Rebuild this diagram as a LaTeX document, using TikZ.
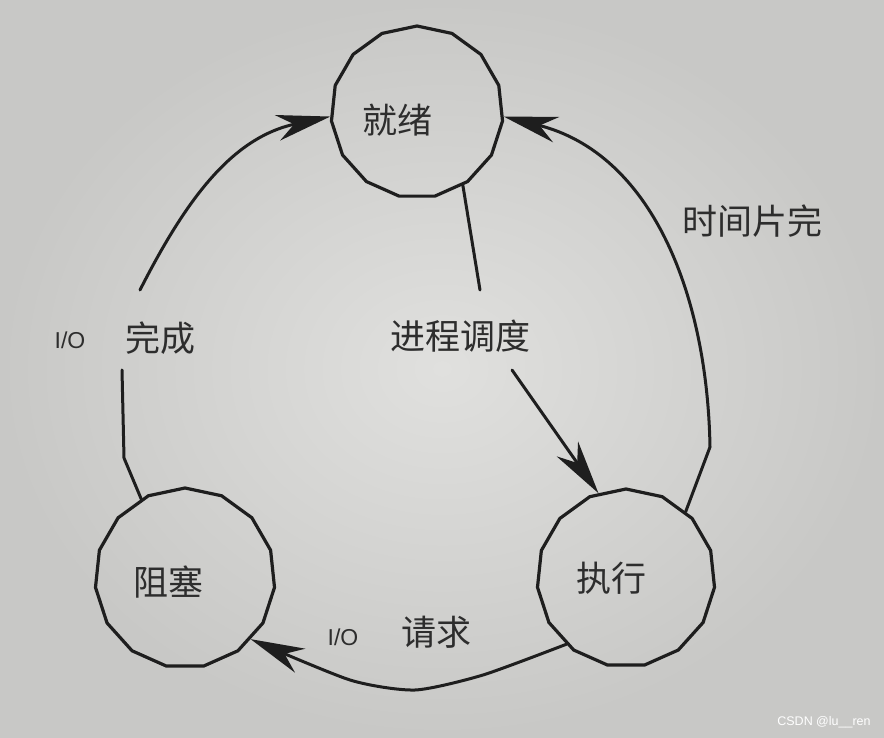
\documentclass[tikz,border=0pt]{standalone}
\usepackage{fontspec}
\setmainfont{Liberation Sans}
\newfontfamily\cjk{Noto Sans CJK SC}
\usetikzlibrary{shapes.geometric,arrows.meta}
\definecolor{bgin}{RGB}{224,224,222}
\definecolor{bgout}{RGB}{200,200,198}
\definecolor{ink}{RGB}{30,30,30}
\definecolor{txt}{RGB}{45,45,45}
\begin{document}
\begin{tikzpicture}[x=1pt,y=1pt,
  state/.style={regular polygon, regular polygon sides=15, draw=ink, line width=3.2pt, inner sep=0pt},
  cn/.style={font=\cjk\fontsize{35}{40}\selectfont, text=txt, inner sep=0pt},
  io/.style={font=\fontsize{23}{26}\selectfont, text=txt, inner sep=0pt},
  arc/.style={draw=ink, line width=3pt, line join=round, line cap=round},
  tip/.style={-{Stealth[length=54pt,width=26pt,inset=17pt]}}
]
\shade[inner color=bgin, outer color=bgout] (0,0) rectangle (884,737);
\useasboundingbox (0,0) rectangle (884,737);

% states
\node[state, minimum size=172pt] (jx) at (417,625) {};
\node[state, minimum size=178pt] (zx) at (626,159) {};
\node[state, minimum size=180pt] (zs) at (185,159) {};

% free ends at the label gaps
\coordinate (l1) at (124,279);
\coordinate (l2) at (122,367);
\coordinate (l3) at (140,447);
\coordinate (m1) at (480,447);
\coordinate (m2) at (512,367);
\coordinate (r1) at (710,290);

% I/O complete: blocked -> ready
\draw[arc] (zs.119) -- (l1) -- (l2);
\draw[arc,tip] (l3) to[out=63,in=192] (jx.183);

% time slice over: running -> ready
\draw[arc,tip] (zx.48) -- (r1) to[out=91,in=-14] (jx.357);

% scheduling: ready -> running
\draw[arc] (jx.-58) -- (m1);
\draw[arc,tip] (m2) -- (zx.108);

% I/O request: running -> blocked
\draw[arc,tip] plot[smooth,tension=0.4] coordinates {(zx.228) (483,62) (415,47) (350,57) (zs.317)};

% labels
\node[cn] (t-jx) at (397,617) {就绪};
\node[cn] (t-sj) at (752,516) {时间片完};
\node[io] (t-io1) at (70,397) {I/O};
\node[cn] (t-wc) at (160,399) {完成};
\node[cn] (t-jc) at (460,401) {进程调度};
\node[cn] (t-zs) at (168,155) {阻塞};
\node[cn] (t-zx) at (611,159) {执行};
\node[io] (t-io2) at (343,100) {I/O};
\node[cn] (t-qq) at (436,105) {请求};
\node[font=\fontsize{12.5}{14}\selectfont, text=white, inner sep=0pt] (wm) at (824,15) {CSDN @lu\_\_ren};
\end{tikzpicture}
\end{document}
